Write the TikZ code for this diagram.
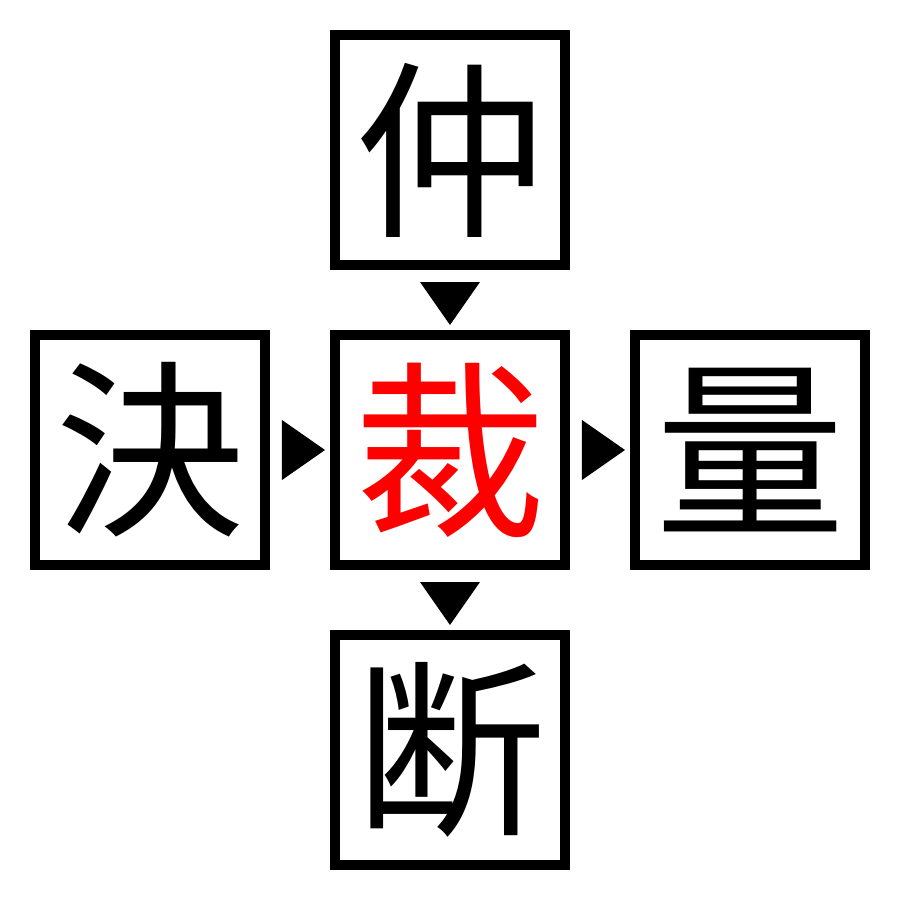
\documentclass[tikz,border=0pt]{standalone}
\usepackage{fontspec}
\newfontfamily\cjk{Noto Sans CJK JP}
\usetikzlibrary {positioning}
\usetikzlibrary {calc}

\begin{document}
\begin{tikzpicture}[
        kanji/.style={draw, line width=0.1cm, minimum size=2.3cm, inner sep=0pt,
            font=\cjk\fontsize{54}{54}\selectfont},
        marker/.style={fill=black}]
    \useasboundingbox (-4.5, -4.5) rectangle (4.5, 4.5);

    \node[kanji, text=red] (mid) at (0, 0) {裁};
    \node[kanji, above=0.6cm of mid] (top) {仲};
    \node[kanji, left=0.6cm of mid] (left) {決};
    \node[kanji, right=0.6cm of mid] (right) {量};
    \node[kanji, below=0.6cm of mid] (bottom) {断};

    \foreach \a/\b/\r in {top/mid/-90, left/mid/0, mid/right/0, mid/bottom/-90}
        \fill[marker, shift={($(\a)!0.5!(\b)$)}, rotate=\r]
            (-0.18, 0.3) -- (0.25, 0) -- (-0.18, -0.3) -- cycle;
\end{tikzpicture}
\end{document}
